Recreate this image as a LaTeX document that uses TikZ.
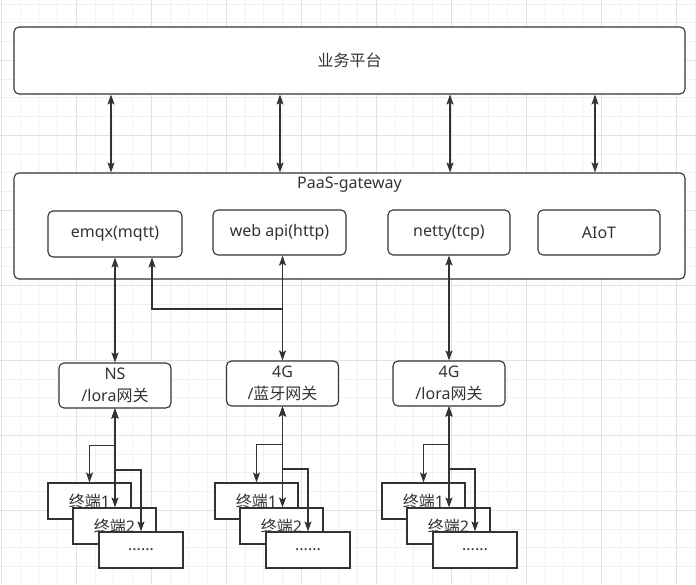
\documentclass[tikz,border=0pt]{standalone}
\usepackage{fontspec}
\setmainfont{Noto Sans}
\newfontfamily\cjk{Noto Sans CJK SC}
\usetikzlibrary{arrows.meta,calc}
\definecolor{ln}{RGB}{51,51,51}
\definecolor{gmin}{RGB}{241,241,241}
\definecolor{gmaj}{RGB}{226,226,226}
\tikzset{
  ah/.tip={Stealth[length=10pt,width=7pt,inset=2pt]},
  txt/.style={text=ln, font=\fontsize{16}{22}\selectfont, align=center, inner sep=0pt},
  rbox/.style={txt, draw=ln, line width=1.1pt, fill=white, rounded corners=5pt},
  tbox/.style={txt, draw=ln, line width=1.1pt, fill=white, minimum width=83pt, minimum height=36pt},
  conn/.style={draw=ln, line width=1.1pt},
  both/.style={conn, ah-ah},
  one/.style={conn, -ah},
  gminor/.style={draw=gmin, line width=0.9pt},
  gmajor/.style={draw=gmaj, line width=0.9pt}
}
\begin{document}
\begin{tikzpicture}[x=1pt,y=-1pt]
\useasboundingbox (0,0) rectangle (696,585);
\fill[white] (0,0) rectangle (696,585);
% grid
\foreach \i in {0,...,37} \draw[gminor] ({1.3+18.75*\i},0) -- ({1.3+18.75*\i},585);
\foreach \j in {0,...,30} \draw[gminor] (0,{4.05+18.75*\j}) -- (696,{4.05+18.75*\j});
\foreach \i in {0,...,9} \draw[gmajor] ({1.3+75*\i},0) -- ({1.3+75*\i},585);
\foreach \j in {0,...,6} \draw[gmajor] (0,{60.3+75*\j}) -- (696,{60.3+75*\j});

% main boxes
\node[rbox, minimum width=671pt, minimum height=67pt] (top) at (349.5,60.5) {{\cjk 业务平台}};
\node[rbox, minimum width=671pt, minimum height=106pt] (gw) at (349.5,226) {};
\node[txt] (gwl) at (349.5,185) {PaaS-gateway};
\node[rbox, minimum width=134pt, minimum height=46pt] (emqx) at (115,234) {emqx(mqtt)};
\node[rbox, minimum width=133pt, minimum height=45pt] (web) at (279.5,232.5) {web api(http)};
\node[rbox, minimum width=122pt, minimum height=45pt] (netty) at (449,232.5) {netty(tcp)};
\node[rbox, minimum width=122pt, minimum height=45pt] (aiot) at (599,232.5) {AIoT};

% top arrows
\coordinate (c1) at (111,0);
\coordinate (c2) at (280,0);
\coordinate (c3) at (450,0);
\coordinate (c4) at (595,0);
\foreach \c in {c1,c2,c3,c4} \draw[both] (top.south -| \c) -- (gw.north -| \c);

% lower gateways
\node[rbox, minimum width=112pt, minimum height=45pt] (ns) at (115,385.5) {NS\\/lora{\cjk 网关}};
\node[rbox, minimum width=112pt, minimum height=45pt] (g4b) at (282.5,383.5) {4G\\/{\cjk 蓝牙网关}};
\node[rbox, minimum width=112pt, minimum height=45pt] (g4l) at (449,383.5) {4G\\/lora{\cjk 网关}};

% gateway to platform links
\draw[both] (ns.north) -- (emqx.south -| ns.north);
\draw[both] (g4b.north) -- (web.south -| g4b.north);
\coordinate (jb) at (152,309);
\draw[one] (g4b.north) |- (jb) -- (emqx.south -| jb);
\draw[both] (g4l.north) -- (netty.south -| g4l.north);

% terminal stacks
\node[tbox] (a1) at (89.5,501) {{\cjk 终端}1};
\node[tbox] (a2) at (114.5,526) {{\cjk 终端}2};
\node[tbox, minimum width=84pt] (a3) at (141,550) {......};
\node[tbox] (b1) at (256.5,501) {{\cjk 终端}1};
\node[tbox] (b2) at (281.5,526) {{\cjk 终端}2};
\node[tbox, minimum width=84pt] (b3) at (308,550) {......};
\node[tbox] (d1) at (423.5,501) {{\cjk 终端}1};
\node[tbox] (d2) at (448.5,526) {{\cjk 终端}2};
\node[tbox, minimum width=84pt] (d3) at (475,550) {......};

% terminal links
\foreach \g/\p in {ns/a, g4b/b, g4l/d} {
  \draw[both] (\g.south) -- ($(\g.south)!0.5!(\g.south |- \p1.north)$) -| (\p1.north);
  \draw[both] (\g.south) -- (\g.south |- \p2.north);
  \draw[both] (\g.south) -- ($(\g.south)!0.5!(\g.south |- \p3.north)$) -| (\p3.north);
}
\end{tikzpicture}
\end{document}
